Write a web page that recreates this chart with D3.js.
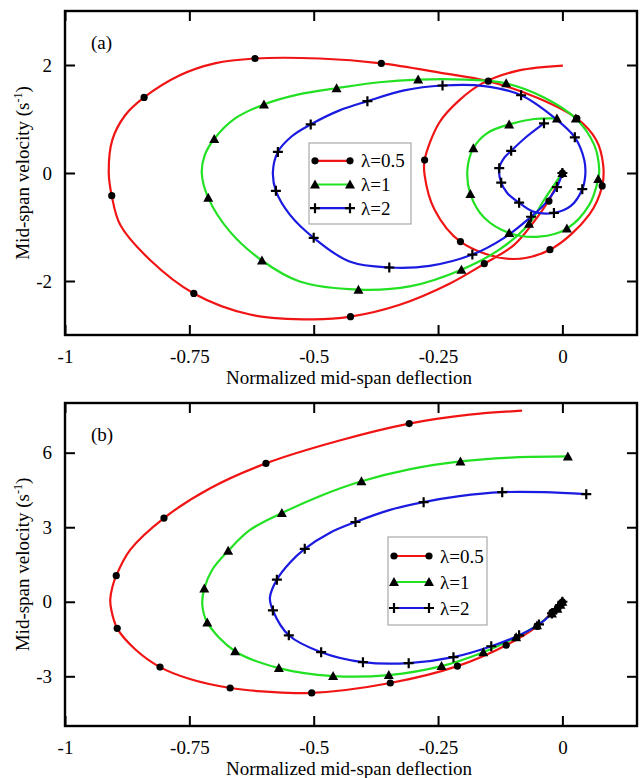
<!DOCTYPE html>
<html>
<head>
<meta charset="utf-8">
<script src="https://cdn.jsdelivr.net/npm/d3@7"></script>
<style>
  body { margin: 0; background: #fff; }
  svg text { font-family: "Liberation Serif", "Times New Roman", "DejaVu Serif", serif; }
</style>
</head>
<body>
<div id="chart"></div>
<script>
// --- Data (normalized mid-span deflection, mid-span velocity)
const xTicks = [-1, -0.75, -0.5, -0.25, 0];
const xTickLabels = ['-1', '-0.75', '-0.5', '-0.25', '0'];
const aYTicks = [-2, 0, 2];
const bYTicks = [-3, 0, 3, 6];
const seriesNames = ['\u03bb=0.5', '\u03bb=1', '\u03bb=2'];
const seriesColors = ['#f01414', '#22e022', '#1a1ae0'];
const seriesSymbols = ['dot', 'triangle', 'plus'];

// panel (a)
const aRedLine = [[0, 0], [-0.027, -0.50], [-0.057, -0.90], [-0.097, -1.33], [-0.157, -1.68], [-0.227, -2.05],
  [-0.327, -2.44], [-0.426, -2.66], [-0.502, -2.71], [-0.628, -2.62], [-0.741, -2.23], [-0.829, -1.61],
  [-0.889, -0.96], [-0.906, -0.42], [-0.912, 0], [-0.905, 0.61], [-0.879, 1.07], [-0.841, 1.40],
  [-0.769, 1.81], [-0.699, 2.03], [-0.618, 2.12], [-0.488, 2.12], [-0.364, 2.03], [-0.247, 1.86],
  [-0.149, 1.70], [-0.047, 1.38], [0.029, 1.01], [0.068, 0.61], [0.082, 0.15], [0.080, -0.24],
  [0.054, -0.77], [-0.025, -1.42], [-0.107, -1.59], [-0.205, -1.27], [-0.257, -0.68], [-0.277, -0.04],
  [-0.277, 0.24], [-0.247, 0.94], [-0.207, 1.35], [-0.161, 1.66], [-0.087, 1.90], [0.001, 1.99]];
const aRedMarks = [[0, 0], [-0.027, -0.52], [-0.157, -1.68], [-0.426, -2.66], [-0.741, -2.23], [-0.906, -0.42],
  [-0.841, 1.40], [-0.618, 2.12], [-0.364, 2.03], [-0.149, 1.70], [0.029, 1.01], [0.080, -0.24],
  [-0.025, -1.42], [-0.205, -1.27], [-0.277, 0.24]];
const aGreenLine = [[0, 0], [-0.037, -0.50], [-0.067, -0.94], [-0.127, -1.42], [-0.203, -1.79], [-0.307, -2.10],
  [-0.410, -2.16], [-0.528, -2.01], [-0.604, -1.62], [-0.668, -1.09], [-0.712, -0.46], [-0.725, 0],
  [-0.719, 0.33], [-0.700, 0.63], [-0.658, 1.01], [-0.600, 1.27], [-0.528, 1.46], [-0.454, 1.57],
  [-0.368, 1.68], [-0.290, 1.73], [-0.197, 1.73], [-0.113, 1.66], [-0.037, 1.40], [0.027, 1.01],
  [0.064, 0.52], [0.074, 0.06], [0.072, -0.11], [0.054, -0.59], [0.009, -1.03], [-0.047, -1.18],
  [-0.107, -1.11], [-0.157, -0.83], [-0.185, -0.39], [-0.191, 0.06], [-0.179, 0.46], [-0.151, 0.74],
  [-0.107, 0.90], [-0.057, 1.00], [-0.011, 1.01]];
const aGreenMarks = [[0, 0], [-0.067, -0.94], [-0.203, -1.79], [-0.410, -2.16], [-0.604, -1.62], [-0.712, -0.46],
  [-0.700, 0.63], [-0.600, 1.27], [-0.454, 1.57], [-0.290, 1.73], [-0.113, 1.66], [0.027, 1.01],
  [0.072, -0.11], [0.009, -1.03], [-0.107, -1.11], [-0.185, -0.39], [-0.179, 0.46], [-0.107, 0.90],
  [-0.011, 1.01]];
const aBlueLine = [[0, 0], [-0.011, -0.26], [-0.037, -0.59], [-0.063, -0.81], [-0.117, -1.20], [-0.181, -1.51],
  [-0.267, -1.72], [-0.348, -1.75], [-0.428, -1.64], [-0.500, -1.20], [-0.548, -0.77], [-0.576, -0.33],
  [-0.582, 0.02], [-0.572, 0.39], [-0.544, 0.68], [-0.506, 0.90], [-0.448, 1.16], [-0.392, 1.33],
  [-0.318, 1.53], [-0.241, 1.62], [-0.157, 1.61], [-0.083, 1.44], [-0.017, 1.03], [0.025, 0.66],
  [0.044, 0.24], [0.046, -0.04], [0.040, -0.30], [0.017, -0.61], [-0.017, -0.74], [-0.057, -0.72],
  [-0.087, -0.55], [-0.111, -0.37], [-0.123, -0.18], [-0.127, 0.09], [-0.117, 0.28], [-0.103, 0.41],
  [-0.071, 0.68], [-0.037, 0.92]];
const aBlueMarks = [[0, 0], [-0.011, -0.26], [-0.063, -0.81], [-0.181, -1.51], [-0.348, -1.75], [-0.500, -1.20],
  [-0.576, -0.33], [-0.572, 0.39], [-0.506, 0.90], [-0.392, 1.33], [-0.241, 1.62], [-0.083, 1.44],
  [0.025, 0.66], [0.040, -0.30], [-0.017, -0.74], [-0.087, -0.55], [-0.123, -0.18], [-0.127, 0.09],
  [-0.103, 0.41], [-0.037, 0.92]];

// panel (b)
const bRedLine = [[0, 0], [-0.021, -0.43], [-0.051, -0.99], [-0.113, -1.75], [-0.211, -2.59], [-0.346, -3.27],
  [-0.504, -3.67], [-0.588, -3.63], [-0.668, -3.47], [-0.749, -3.11], [-0.809, -2.63], [-0.859, -1.91],
  [-0.895, -1.07], [-0.907, -0.31], [-0.909, 0.09], [-0.905, 0.57], [-0.897, 1.05], [-0.869, 2.09],
  [-0.801, 3.37], [-0.708, 4.57], [-0.596, 5.57], [-0.448, 6.49], [-0.308, 7.17], [-0.187, 7.53],
  [-0.081, 7.69]];
const bRedMarks = [[0, 0], [-0.004, -0.1], [-0.010, -0.25], [-0.021, -0.43], [-0.051, -0.99], [-0.113, -1.75],
  [-0.211, -2.59], [-0.346, -3.27], [-0.504, -3.67], [-0.668, -3.47], [-0.809, -2.63], [-0.895, -1.07],
  [-0.897, 1.05], [-0.801, 3.37], [-0.596, 5.57], [-0.308, 7.17]];
const bGreenLine = [[0, 0], [-0.021, -0.47], [-0.051, -0.95], [-0.093, -1.43], [-0.159, -2.03], [-0.243, -2.59],
  [-0.349, -2.95], [-0.461, -2.99], [-0.570, -2.67], [-0.658, -1.99], [-0.714, -0.83], [-0.724, -0.11],
  [-0.720, 0.53], [-0.704, 1.29], [-0.672, 2.05], [-0.628, 2.89], [-0.564, 3.57], [-0.488, 4.25],
  [-0.404, 4.85], [-0.308, 5.33], [-0.205, 5.65], [-0.097, 5.81], [0.011, 5.85]];
const bGreenMarks = [[0, 0], [-0.004, -0.12], [-0.010, -0.28], [-0.021, -0.47], [-0.051, -0.95], [-0.093, -1.43],
  [-0.159, -2.03], [-0.243, -2.59], [-0.349, -2.95], [-0.461, -2.99], [-0.570, -2.67], [-0.658, -1.99],
  [-0.714, -0.83], [-0.720, 0.53], [-0.672, 2.05], [-0.564, 3.57], [-0.404, 4.85], [-0.205, 5.65],
  [0.011, 5.85]];
const bBlueLine = [[0, 0], [-0.021, -0.47], [-0.047, -0.91], [-0.087, -1.35], [-0.143, -1.79], [-0.219, -2.23],
  [-0.309, -2.47], [-0.401, -2.43], [-0.485, -2.03], [-0.550, -1.35], [-0.582, -0.35], [-0.588, 0.17],
  [-0.574, 0.89], [-0.548, 1.57], [-0.518, 2.13], [-0.468, 2.77], [-0.416, 3.21], [-0.348, 3.69],
  [-0.279, 4.01], [-0.207, 4.25], [-0.121, 4.41], [-0.037, 4.41], [0.048, 4.33]];
const bBlueMarks = [[0, 0], [-0.005, -0.14], [-0.012, -0.3], [-0.021, -0.47], [-0.047, -0.91], [-0.087, -1.35],
  [-0.143, -1.79], [-0.219, -2.23], [-0.309, -2.47], [-0.401, -2.43], [-0.485, -2.03], [-0.550, -1.35],
  [-0.582, -0.35], [-0.574, 0.89], [-0.518, 2.13], [-0.416, 3.21], [-0.279, 4.01], [-0.121, 4.41],
  [0.048, 4.33]];

// --- Layout
const width = 641;
const height = 778;
const serif = '"Liberation Serif", "Times New Roman", "DejaVu Serif", serif';
const fontSize = 19;

const panels = [
  {
    label: '(a)', top: 11, bottom: 335, yDomain: [-3, 3], yTicks: aYTicks,
    lines: [aRedLine, aGreenLine, aBlueLine], marks: [aRedMarks, aGreenMarks, aBlueMarks],
    legend: { x: 309, y: 143, w: 102, h: 81 }
  },
  {
    label: '(b)', top: 403, bottom: 726, yDomain: [-5, 8], yTicks: bYTicks,
    lines: [bRedLine, bGreenLine, bBlueLine], marks: [bRedMarks, bGreenMarks, bBlueMarks],
    legend: { x: 388, y: 537, w: 99, h: 88 }
  }
];

const left = 65;
const right = 637;
const tickLen = 10;

const svg = d3.select('#chart')
  .append('svg')
  .attr('width', width)
  .attr('height', height)
  .attr('viewBox', [0, 0, width, height])
  .attr('font-family', serif);

// draws one marker symbol centred on 0,0
function drawSymbol(g, type) {
  if (type === 'dot') {
    g.append('circle').attr('r', 3.6).attr('fill', '#000');
  } else if (type === 'triangle') {
    g.append('path').attr('d', 'M0,-5L5,4L-5,4Z').attr('fill', '#000');
  } else {
    g.append('path').attr('d', 'M-5,0H5M0,-5V5')
      .attr('stroke', '#000').attr('stroke-width', 2.2).attr('fill', 'none');
  }
}

panels.forEach(p => {
  const x = d3.scaleLinear().domain([-1, 0.15]).range([left, right]);
  const y = d3.scaleLinear().domain(p.yDomain).range([p.bottom, p.top]);

  const g = svg.append('g');

  // clip curves to the frame
  const clipId = 'clip' + p.label.replace(/\W/g, '');
  g.append('clipPath').attr('id', clipId)
    .append('rect')
    .attr('x', left).attr('y', p.top)
    .attr('width', right - left).attr('height', p.bottom - p.top);

  // axes, ticks pointing in
  g.append('g')
    .attr('transform', `translate(0,${p.bottom})`)
    .call(d3.axisBottom(x).tickValues(xTicks).tickSize(-tickLen).tickPadding(15)
      .tickFormat((d, i) => xTickLabels[i]))
    .call(a => a.select('.domain').remove());
  g.append('g')
    .attr('transform', `translate(0,${p.top})`)
    .call(d3.axisTop(x).tickValues(xTicks).tickSize(-tickLen).tickFormat(''))
    .call(a => a.select('.domain').remove());
  g.append('g')
    .attr('transform', `translate(${left},0)`)
    .call(d3.axisLeft(y).tickValues(p.yTicks).tickSize(-tickLen).tickPadding(13)
      .tickFormat(d => String(d)))
    .call(a => a.select('.domain').remove());
  g.append('g')
    .attr('transform', `translate(${right},0)`)
    .call(d3.axisRight(y).tickValues(p.yTicks).tickSize(-tickLen).tickFormat(''))
    .call(a => a.select('.domain').remove());

  g.selectAll('g[font-family]').attr('font-family', serif).attr('font-size', fontSize);
  g.selectAll('.tick line').attr('stroke', '#000').attr('stroke-width', 2);
  g.selectAll('.tick text').attr('fill', '#000');

  // curves
  const line = d3.line()
    .x(d => x(d[0]))
    .y(d => y(d[1]))
    .curve(d3.curveCatmullRom.alpha(0.5));

  const plot = g.append('g').attr('clip-path', `url(#${clipId})`);
  p.lines.forEach((pts, i) => {
    plot.append('path')
      .datum(pts)
      .attr('d', line)
      .attr('fill', 'none')
      .attr('stroke', seriesColors[i])
      .attr('stroke-width', 2.2);
  });
  p.marks.forEach((pts, i) => {
    plot.selectAll(null)
      .data(pts)
      .join('g')
      .attr('transform', d => `translate(${x(d[0])},${y(d[1])})`)
      .each(function () { drawSymbol(d3.select(this), seriesSymbols[i]); });
  });

  // frame
  g.append('rect')
    .attr('x', left).attr('y', p.top)
    .attr('width', right - left).attr('height', p.bottom - p.top)
    .attr('fill', 'none').attr('stroke', '#000').attr('stroke-width', 2.4);

  // panel label
  g.append('text')
    .attr('x', 91).attr('y', p.top + 38)
    .attr('font-size', fontSize)
    .text(p.label);

  // axis titles
  g.append('text')
    .attr('x', (left + right) / 2 - 2).attr('y', p.bottom + 49)
    .attr('text-anchor', 'middle')
    .attr('font-size', fontSize)
    .text('Normalized mid-span deflection');

  const yt = g.append('text')
    .attr('transform', `translate(29,${(p.top + p.bottom) / 2}) rotate(-90)`)
    .attr('text-anchor', 'middle')
    .attr('font-size', fontSize);
  yt.append('tspan').text('Mid-span velocity (s');
  yt.append('tspan').attr('dy', -7).attr('font-size', 12).text('-1');
  yt.append('tspan').attr('dy', 7).text(')');

  // legend
  const L = p.legend;
  const lg = g.append('g').attr('transform', `translate(${L.x},${L.y})`);
  lg.append('rect')
    .attr('width', L.w).attr('height', L.h)
    .attr('fill', '#fff').attr('stroke', '#aaa').attr('stroke-width', 1.2);
  const rowH = (L.h - 10) / 3;
  seriesNames.forEach((name, i) => {
    const cy = 5 + rowH * (i + 0.5) + 1;
    const row = lg.append('g').attr('transform', `translate(0,${cy})`);
    row.append('line')
      .attr('x1', 6).attr('x2', 41)
      .attr('stroke', seriesColors[i]).attr('stroke-width', 2.2);
    [6, 41].forEach(mx => {
      drawSymbol(row.append('g').attr('transform', `translate(${mx},0)`), seriesSymbols[i]);
    });
    row.append('text')
      .attr('x', 52).attr('dy', '0.35em')
      .attr('font-size', fontSize)
      .text(name);
  });
});
</script>
</body>
</html>
